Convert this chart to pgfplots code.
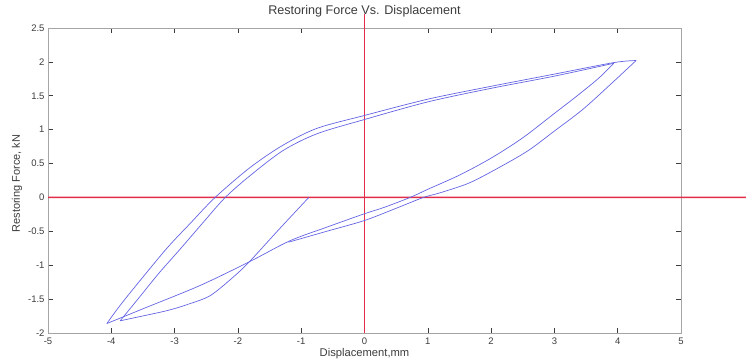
\documentclass[border=0pt]{standalone}
\usepackage{fontspec}
\setmainfont{Liberation Sans}
\usepackage{pgfplots}
\pgfplotsset{compat=1.18}
\definecolor{curveblue}{RGB}{100,100,228}
\definecolor{zerored}{RGB}{225,45,75}
\definecolor{axgray}{RGB}{165,165,165}
\definecolor{txtgray}{RGB}{60,60,60}
\begin{document}
\begin{tikzpicture}
\begin{axis}[
  at={(0,0)}, anchor=south west,
  scale only axis, width=633pt, height=305pt,
  xmin=-5, xmax=5, ymin=-2, ymax=2.5,
  xtick={-5,-4,-3,-2,-1,0,1,2,3,4,5},
  xticklabels={-5,-4,-3,-2,-1,0,1,2,3,4,5},
  ytick={-2,-1.5,-1,-0.5,0,0.5,1,1.5,2,2.5},
  yticklabels={-2,-1.5,-1,-0.5,0,0.5,1,1.5,2,2.5},
  tick align=inside, major tick length=5pt,
  axis line style={draw=axgray, line width=0.9pt},
  tick style={draw=txtgray, line width=0.6pt},
  ticklabel style={font=\fontsize{9.5}{11}\selectfont, text=txtgray},
  xticklabel style={yshift=-1pt},
  title={Restoring Force Vs. Displacement},
  title style={at={(0.5,1)}, anchor=base, yshift=8pt, font=\fontsize{12.6}{14}\selectfont, text=txtgray},
  xlabel={Displacement,mm},
  xlabel style={at={(0.5,0)}, anchor=base, yshift=-23pt, font=\fontsize{11.2}{13}\selectfont, text=txtgray},
  ylabel={Restoring Force, kN},
  every axis y label/.style={at={(0,0.49)}, rotate=90, anchor=base, yshift=28pt, font=\fontsize{11}{13}\selectfont, text=txtgray},
  clip=false,
]
% red zero lines
\addplot[color=zerored, line width=1.5pt] coordinates {(0,-2) (0,2.7)};
\addplot[color=zerored, line width=1.5pt] coordinates {(-5,0) (-2,0.0001) (2,0.0001) (6.05,0)};
% branch 1: initial unloading
\addplot[color=curveblue, line width=0.7pt, smooth, tension=0.5] coordinates {
(-0.88,0) (-1.35,-0.47) (-1.82,-0.95) (-2.08,-1.18) (-2.44,-1.45) (-2.8,-1.58) (-3.12,-1.67) (-3.66,-1.78) (-3.86,-1.82)};
% branch 2: inner loading
\addplot[color=curveblue, line width=0.7pt, smooth, tension=0.5] coordinates {
(-3.86,-1.82) (-3.72,-1.66) (-3.58,-1.50) (-3.25,-1.12) (-2.91,-0.76) (-2.55,-0.37) (-2.2,0) (-1.81,0.32) (-1.29,0.69) (-0.75,0.94) (0,1.15) (1,1.41) (2,1.61) (3,1.79) (3.94,1.98)};
% branch 3: inner unloading
\addplot[color=curveblue, line width=0.7pt, smooth, tension=0.5] coordinates {
(3.94,1.98) (3.7,1.76) (3.36,1.50) (3.0,1.24) (2.5,0.88) (2.0,0.58) (1.5,0.33) (1.0,0.12) (0.72,0) (0.3,-0.15) (0,-0.24) (-0.6,-0.44) (-1.18,-0.64) (-1.82,-0.95) (-2.6,-1.30) (-3.44,-1.62) (-3.86,-1.78) (-4.07,-1.86)};
% branch 4: outer loading
\addplot[color=curveblue, line width=0.7pt, smooth, tension=0.5] coordinates {
(-4.07,-1.86) (-3.8,-1.52) (-3.15,-0.78) (-2.75,-0.38) (-2.36,0) (-1.81,0.44) (-1.29,0.77) (-0.75,1.02) (0,1.21) (1,1.45) (2,1.64) (3,1.82) (3.94,1.99) (4.29,2.02)};
% branch 5: outer unloading
\addplot[color=curveblue, line width=0.7pt, smooth, tension=0.5] coordinates {
(4.29,2.02) (3.9,1.68) (3.45,1.30) (3.0,0.98) (2.6,0.70) (2.2,0.48) (1.67,0.22) (1.2,0.07) (0.93,0) (0.5,-0.16) (0,-0.34) (-0.6,-0.5) (-1.2,-0.66)};
\end{axis}
\pgfresetboundingbox
\path (-48pt,-29pt) rectangle (698pt,333pt);
\end{tikzpicture}
\end{document}
